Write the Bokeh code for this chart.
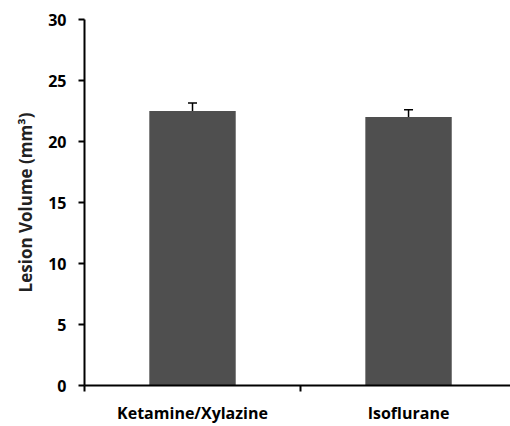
from bokeh.plotting import figure
from bokeh.models import FixedTicker, Whisker, ColumnDataSource, TeeHead
from bokeh.embed import file_html
from bokeh.resources import INLINE

categories = ["Ketamine/Xylazine", "Isoflurane"]
values = [22.5, 22.0]
errors = [0.65, 0.6]
y_ticks = [0, 5, 10, 15, 20, 25, 30]

xpos = [i + 1 for i in range(len(categories))]
src = ColumnDataSource(dict(
    x=xpos, top=values,
    upper=[v + e for v, e in zip(values, errors)],
))

p = figure(width=510, height=426, output_backend="svg", toolbar_location=None,
           x_range=(0.5, 2.472), y_range=(0, 30),
           min_border_left=84, min_border_right=0, min_border_top=19, min_border_bottom=41)
p.outline_line_color = None
p.grid.visible = False
p.background_fill_color = "white"

p.vbar(x="x", top="top", width=0.4, bottom=0, source=src,
       fill_color="#4f4f4f", line_color=None)
p.add_layout(Whisker(base="x", upper="upper", lower="top", source=src,
                     line_color="black", line_width=1.5,
                     upper_head=TeeHead(size=9, line_color="black", line_width=1.5),
                     lower_head=None))

font = "Open Sans"
p.yaxis.ticker = FixedTicker(ticks=y_ticks)
p.yaxis.axis_line_width = 2
p.yaxis.major_tick_line_width = 2
p.yaxis.major_tick_out = 6
p.yaxis.major_tick_in = 0
p.yaxis.minor_tick_line_color = None
p.yaxis.major_label_text_font = font
p.yaxis.major_label_text_font_style = "bold"
p.yaxis.major_label_text_font_size = "16px"
p.yaxis.major_label_text_color = "black"
p.yaxis.major_label_standoff = 12
p.yaxis.axis_label = "Lesion Volume (mm³)"
p.yaxis.axis_label_text_font = font
p.yaxis.axis_label_text_font_style = "bold"
p.yaxis.axis_label_text_font_size = "17px"
p.yaxis.axis_label_text_color = "#222222"
p.yaxis.axis_label_standoff = 8

p.xaxis.ticker = FixedTicker(ticks=xpos, minor_ticks=[0.5, 1.5, 2.5])
p.xaxis.major_label_overrides = {x: c for x, c in zip(xpos, categories)}
p.xaxis.axis_line_width = 2
p.xaxis.major_tick_line_color = None
p.xaxis.major_tick_out = 0
p.xaxis.major_tick_in = 0
p.xaxis.minor_tick_line_width = 2
p.xaxis.minor_tick_line_color = "black"
p.xaxis.minor_tick_out = 6
p.xaxis.minor_tick_in = 0
p.xaxis.major_label_text_font = font
p.xaxis.major_label_text_font_style = "bold"
p.xaxis.major_label_text_font_size = "16px"
p.xaxis.major_label_text_color = "black"
p.xaxis.major_label_standoff = 10

open("out.html", "w").write(file_html(p, INLINE))
